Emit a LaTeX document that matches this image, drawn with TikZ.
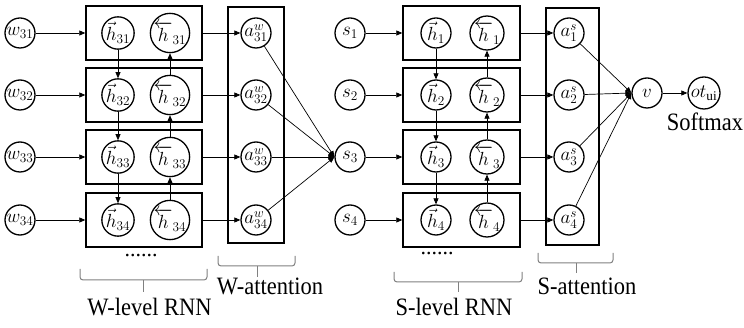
\RequirePackage{fix-cm}
\documentclass[tikz,border=0pt]{standalone}
\usepackage{fontspec}
\setmainfont{Liberation Serif}
\newfontfamily\tnr{Liberation Serif}
\usepackage{graphicx}
\usetikzlibrary{arrows.meta}
\begin{document}
\begin{tikzpicture}[x=1pt,y=-1pt,
  nd/.style={circle,draw,line width=1.3pt,minimum size=30pt,inner sep=0pt,font=\fontsize{19}{21}\selectfont},
  bx/.style={draw,line width=1.4pt,minimum width=116pt,minimum height=54pt,inner sep=0pt},
  ab/.style={draw,line width=1.4pt,inner sep=0pt},
  ar/.style={-{Triangle[length=6pt,width=5pt]},line width=0.7pt},
  br/.style={draw=gray,line width=1pt,rounded corners=3pt},
  bt/.style={draw=gray,line width=1pt},
  lab/.style={font=\tnr\fontsize{25}{27}\selectfont,inner sep=0pt,anchor=base}]
\useasboundingbox (0,0) rectangle (744,328);

\foreach \i/\y in {1/33,2/95,3/157,4/220}{
  \node[nd] (w\i) at (20,\y) {$w_{3\i}$};
  \node[bx] (WB\i) at (144,\y) {};
  \node[nd] (hf\i) at (118,\y) {$\vec{h}_{3\i}$};
  \node[nd] (hb\i) at (170,\y) {$\overleftarrow{h}_{3\i}$};
  \node[nd] (aw\i) at (256,\y) {$a^{w}_{3\i}$};
  \node[nd] (s\i) at (350,\y) {$s_{\i}$};
  \node[bx,minimum width=117pt] (SB\i) at (461.5,\y) {};
  \node[nd] (sf\i) at (436,\y) {$\vec{h}_{\i}$};
  \node[nd] (sb\i) at (487,\y) {$\overleftarrow{h}_{\i}$};
  \node[nd] (as\i) at (569,\y) {$a^{s}_{\i}$};
  \draw[ar] (w\i) -- (w\i -| WB\i.west);
  \draw[ar] (WB\i.east) -- (aw\i);
  \draw[ar] (s\i) -- (s\i -| SB\i.west);
  \draw[ar] (SB\i.east) -- (as\i);
}
\node[ab,minimum width=56pt,minimum height=236pt] (WA) at (256,125) {};
\node[ab,minimum width=53pt,minimum height=237pt] (SA) at (572.5,126.5) {};

\foreach \i/\j in {1/2,2/3,3/4}{
  \draw[ar] (hf\i) -- (hf\j);
  \draw[ar] (hb\j) -- (hb\i);
  \draw[ar] (sf\i) -- (sf\j);
  \draw[ar] (sb\j) -- (sb\i);
}

\node[nd] (v) at (647,93) {$v$};
\node[nd,minimum size=32pt] (ot) at (704,93) {$ot_{\mathrm{ui}}$};
\draw[ar] (v) -- (ot);

\foreach \i in {1,2,3,4}{
  \draw[ar] (aw\i) -- (s3.west);
  \draw[ar] (as\i) -- (v.west);
}

\node[lab] (sm) at (705,131) {\scalebox{0.9}[1]{Softmax}};

\node[font=\tnr\fontsize{22}{24}\selectfont,inner sep=0pt] (d1) at (141,256) {......};
\node[font=\tnr\fontsize{22}{24}\selectfont,inner sep=0pt] (d2) at (437,254) {......};

\draw[br] (80,269) -- (80,280) -- (207,280) -- (207,269);
\coordinate (t1) at (143,280);
\draw[bt] (t1) -- ++(0,12);
\draw[br] (218,256) -- (218,266) -- (295,266) -- (295,256);
\coordinate (t2) at (257,266);
\draw[bt] (t2) -- ++(0,11);
\draw[br] (394,272) -- (394,282) -- (522,282) -- (522,272);
\coordinate (t3) at (458,282);
\draw[bt] (t3) -- ++(0,10);
\draw[br] (538,253) -- (538,263) -- (613,263) -- (613,253);
\coordinate (t4) at (576,263);
\draw[bt] (t4) -- ++(0,10);

\node[lab] (l1) at (149.5,316) {\scalebox{0.9}[1]{W-level RNN}};
\node[lab] (l2) at (270,295) {\scalebox{0.9}[1]{W-attention}};
\node[lab] (l3) at (454,316) {\scalebox{0.9}[1]{S-level RNN}};
\node[lab] (l4) at (587,295) {\scalebox{0.9}[1]{S-attention}};
\end{tikzpicture}
\end{document}
